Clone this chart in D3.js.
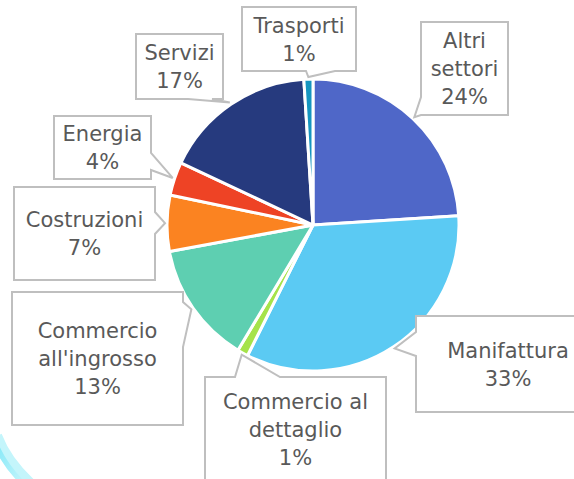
<!DOCTYPE html>
<html>
<head>
<meta charset="utf-8">
<script src="https://cdn.jsdelivr.net/npm/d3@7"></script>
<style>
  body { margin: 0; background: #fff; }
  svg { display: block; }
</style>
</head>
<body>
<svg id="chart" width="574" height="479"></svg>
<script>
// ====================== DATA ======================
const categories = ["Altri settori", "Manifattura", "Commercio al dettaglio", "Commercio all'ingrosso",
                    "Costruzioni", "Energia", "Servizi", "Trasporti"];
const shares = [24.0, 33.4, 1.2, 13.5, 6.2, 3.7, 17.0, 1.0];   // slice sizes
const pctLabels = ["24%", "33%", "1%", "13%", "7%", "4%", "17%", "1%"];
const colors = ["#4f67c8", "#5bcaf3", "#a5e34a", "#5ecfb1", "#fb8321", "#ee4325", "#263a7e", "#1595c0"];

// callout boxes: x0,y0,x1,y1, side of the tail, tail base along that side
const boxes = [
  { x0: 421, y0: 22,  x1: 508, y1: 115, side: "left",   a: 97,  b: 115 },
  { x0: 416, y0: 316, x1: 600, y1: 412, side: "left",   a: 332, b: 356 },
  { x0: 205, y0: 377, x1: 386, y1: 481, side: "top",    a: 235, b: 280 },
  { x0: 12,  y0: 292, x1: 183, y1: 425, side: "right",  a: 302, b: 347 },
  { x0: 14,  y0: 187, x1: 155, y1: 280, side: "right",  a: 212, b: 234 },
  { x0: 54,  y0: 116, x1: 151, y1: 179, side: "right",  a: 153, b: 170 },
  { x0: 136, y0: 34,  x1: 223, y1: 99,  side: "bottom", a: 188, b: 212 },
  { x0: 242, y0: 7,   x1: 356, y1: 71,  side: "bottom", a: 306, b: 335 }
];

const cx = 313, cy = 225, radius = 146;
const fontSize = 21, lineH = 28;

const svg = d3.select("#chart");

// background decoration (bottom-left swoosh)
const defs = svg.append("defs");
const grad = defs.append("linearGradient").attr("id", "swoosh").attr("x1", "0").attr("y1", "0").attr("x2", "1").attr("y2", "1");
grad.append("stop").attr("offset", "0%").attr("stop-color", "#7fe7f7");
grad.append("stop").attr("offset", "100%").attr("stop-color", "#c8f6fc");
svg.append("path")
  .attr("d", "M -4,436 Q 6,462 30,484")
  .attr("fill", "none")
  .attr("stroke", "#c4f5fb")
  .attr("stroke-width", 12);
svg.append("path")
  .attr("d", "M -6,440 Q 4,466 26,486")
  .attr("fill", "none")
  .attr("stroke", "url(#swoosh)")
  .attr("stroke-width", 5);

// ====================== PIE ======================
const pie = d3.pie().sort(null).value(d => d)(shares);
const arc = d3.arc().innerRadius(0).outerRadius(radius);
const tipArc = d3.arc().innerRadius(radius + 2).outerRadius(radius + 2);

const g = svg.append("g").attr("transform", `translate(${cx},${cy})`);
g.selectAll("path")
  .data(pie)
  .enter()
  .append("path")
  .attr("d", arc)
  .attr("fill", (d, i) => colors[i])
  .attr("stroke", "#fff")
  .attr("stroke-width", 3)
  .attr("stroke-linejoin", "round");

// ====================== CALLOUTS ======================
function calloutPath(b, tip) {
  const pts = [];
  pts.push([b.x0, b.y0]);
  if (b.side === "top") pts.push([b.a, b.y0], tip, [b.b, b.y0]);
  pts.push([b.x1, b.y0]);
  if (b.side === "right") pts.push([b.x1, b.a], tip, [b.x1, b.b]);
  pts.push([b.x1, b.y1]);
  if (b.side === "bottom") pts.push([b.b, b.y1], tip, [b.a, b.y1]);
  pts.push([b.x0, b.y1]);
  if (b.side === "left") pts.push([b.x0, b.b], tip, [b.x0, b.a]);
  return "M" + pts.map(p => p.join(",")).join("L") + "Z";
}

const labels = svg.append("g");

pie.forEach((d, i) => {
  const b = boxes[i];
  const c = tipArc.centroid(d);
  const tip = [cx + c[0], cy + c[1]];

  labels.append("path")
    .attr("d", calloutPath(b, tip))
    .attr("fill", "#fff")
    .attr("stroke", "#bfbfbf")
    .attr("stroke-width", 2)
    .attr("stroke-linejoin", "miter");

  const t = labels.append("text")
    .attr("text-anchor", "middle")
    .attr("font-family", "'DejaVu Sans', sans-serif")
    .attr("font-size", fontSize)
    .attr("fill", "#595959");

  // wrap the category name to the box width
  const maxW = (b.x1 - b.x0) - 10;
  const words = categories[i].split(" ");
  const lines = [];
  let cur = "";
  const probe = t.append("tspan");
  words.forEach(w => {
    const test = cur ? cur + " " + w : w;
    probe.text(test);
    if (cur && probe.node().getComputedTextLength() > maxW) {
      lines.push(cur);
      cur = w;
    } else {
      cur = test;
    }
  });
  lines.push(cur);
  probe.remove();
  lines.push(pctLabels[i]);

  const mx = (b.x0 + b.x1) / 2;
  const my = (b.y0 + b.y1) / 2;
  const first = my - (lines.length - 1) * lineH / 2 + 7.5;
  lines.forEach((ln, j) => {
    t.append("tspan")
      .attr("x", mx)
      .attr("y", first + j * lineH)
      .text(ln);
  });
});
</script>
</body>
</html>
